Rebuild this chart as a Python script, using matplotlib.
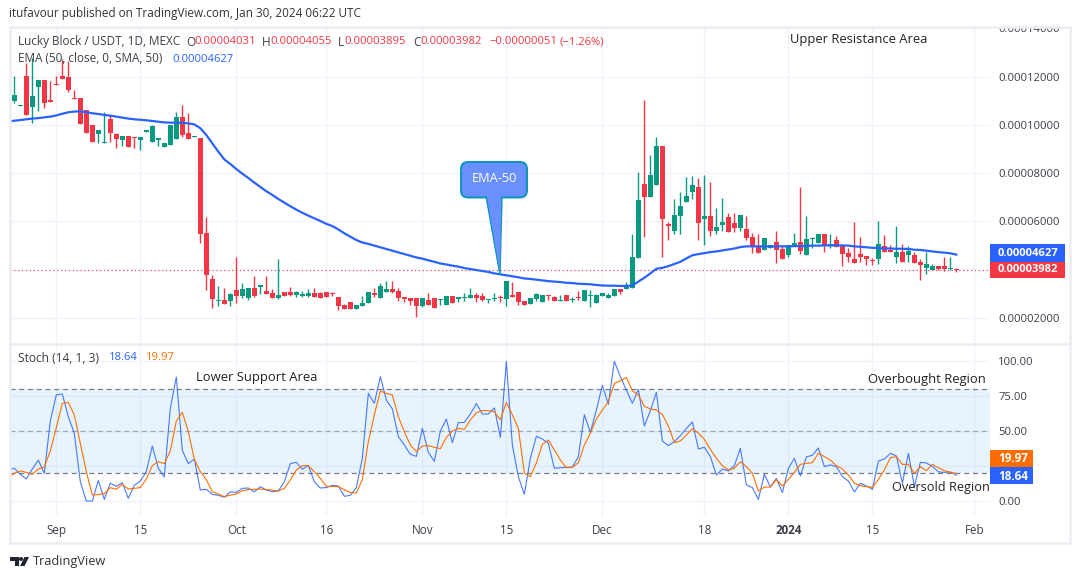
import numpy as np
import pandas as pd
import matplotlib
matplotlib.use('Agg')
import matplotlib.pyplot as plt
import matplotlib.dates as mdates
from matplotlib.patches import FancyBboxPatch, Polygon, Rectangle, Circle

plt.rcParams['font.family'] = 'Open Sans'

# prices are in units of 1e-5 USDT, candles start on 2023-08-25
opens = [10.99,10.79,12.02,10.74,11.57,11.86,10.99,11.69,12.02,11.98,11.10,11.11,10.61,9.99,9.62,9.26,10.24,9.62,9.37,9.54,
         9.50,9.37,9.72,9.29,9.37,9.08,9.17,9.41,10.32,9.66,9.50,9.45,5.52,3.62,2.71,2.75,2.71,3.16,2.91,2.83,
         3.26,3.30,3.12,3.04,2.83,3.08,3.08,2.95,2.93,2.91,3.04,3.04,3.08,3.02,2.87,2.54,2.66,2.37,2.50,2.62,
         3.04,2.83,3.08,3.20,3.12,2.87,2.83,2.83,2.50,2.75,2.83,2.76,2.54,2.91,2.79,2.84,2.83,2.95,2.91,2.76,
         2.79,2.87,2.79,2.95,3.08,2.70,2.58,2.79,2.66,2.95,2.87,2.71,2.95,2.76,2.87,2.71,2.92,2.62,2.91,2.83,
         2.91,3.20,3.22,3.24,4.48,7.55,7.01,7.51,9.12,5.89,5.60,6.22,6.80,7.22,7.42,6.10,6.22,5.60,5.85,6.18,
         5.93,5.73,5.69,5.35,4.98,4.82,4.90,5.15,4.86,4.61,4.98,5.15,4.61,5.28,5.11,5.48,4.98,5.23,5.02,4.69,
         4.44,4.65,4.57,4.40,4.44,4.98,4.82,4.53,4.73,4.61,4.61,4.32,4.07,3.99,4.15,4.15,4.04,4.031]
highs = [12.02,10.82,12.55,12.75,11.86,11.86,11.81,12.02,12.71,12.63,11.44,11.11,10.61,9.99,9.79,10.53,10.41,9.66,9.54,9.54,
         9.50,9.50,9.74,10.00,9.45,9.25,9.99,10.53,10.82,10.49,9.52,9.45,6.18,3.78,3.33,3.26,3.04,4.53,3.45,3.26,
         3.74,3.33,3.74,3.20,4.45,3.08,3.29,3.12,3.12,3.20,3.26,3.08,3.08,3.06,2.87,2.58,2.66,2.54,2.91,3.08,
         3.24,3.45,3.53,3.53,3.24,2.87,2.83,2.83,2.83,3.04,2.83,2.79,2.91,2.91,2.87,3.04,3.24,3.04,3.04,2.79,
         3.04,2.95,3.53,3.49,3.08,2.70,2.83,3.04,2.95,2.95,2.91,2.95,2.95,2.87,3.12,3.16,3.16,2.99,3.04,3.04,
         3.20,3.20,3.49,5.48,8.05,11.03,8.75,9.49,9.12,5.97,6.93,7.22,7.84,7.88,7.80,7.92,7.63,6.55,6.97,6.35,
         6.35,6.26,6.22,5.52,5.48,5.31,5.02,5.60,5.02,5.02,5.52,7.42,6.22,5.35,5.48,5.48,5.48,5.40,5.02,4.90,
         5.98,5.35,4.57,4.48,6.02,5.44,5.02,5.81,5.06,4.98,4.73,4.44,4.73,4.24,4.15,4.53,4.53,4.055]
lows = [10.89,10.79,10.41,10.09,10.59,10.68,10.96,11.66,11.90,11.37,11.08,10.03,9.66,9.29,9.26,9.26,9.29,9.04,9.12,9.08,
        9.04,8.96,9.72,9.29,9.12,9.08,9.17,9.41,9.51,9.41,9.50,5.11,3.16,2.42,2.50,2.58,2.50,2.62,2.83,2.75,
        2.87,3.00,3.00,2.83,2.79,2.91,2.91,2.87,2.87,2.87,2.87,2.83,2.87,2.91,2.33,2.37,2.37,2.37,2.50,2.62,
        2.87,2.83,3.08,3.04,2.70,2.66,2.54,2.04,2.46,2.54,2.42,2.54,2.54,2.62,2.66,2.70,2.83,2.66,2.70,2.62,
        2.70,2.66,2.50,2.87,2.54,2.54,2.58,2.70,2.66,2.75,2.71,2.71,2.71,2.66,2.75,2.71,2.46,2.62,2.91,2.83,
        2.91,2.99,3.22,3.24,4.48,5.35,7.01,7.51,4.53,5.23,5.48,5.48,6.80,6.93,5.23,5.02,5.40,5.48,5.60,5.56,
        5.56,5.60,5.23,4.69,4.69,4.82,4.90,4.28,4.44,4.53,4.98,4.65,4.61,4.90,5.11,4.73,4.90,4.94,4.15,4.32,
        4.28,4.32,4.20,4.20,4.24,4.73,4.73,4.28,4.32,4.32,4.28,3.57,3.82,3.99,3.99,3.95,4.00,3.895]
closes = [11.23,10.82,10.41,11.19,11.86,10.90,10.96,11.66,11.90,11.44,11.08,10.03,9.66,9.29,9.79,9.28,9.66,9.41,9.54,9.08,
          9.44,9.50,9.74,9.95,9.45,9.25,9.99,10.32,9.58,9.41,9.52,5.48,3.78,2.79,2.75,2.58,3.00,2.91,3.20,3.26,
          2.91,3.33,3.00,2.83,2.95,2.91,2.95,3.08,2.95,3.04,2.87,2.83,2.87,2.98,2.51,2.37,2.37,2.54,2.62,3.08,
          2.95,3.33,3.20,3.08,2.83,2.79,2.71,2.50,2.83,2.54,2.42,2.79,2.91,2.62,2.87,2.87,2.95,2.83,2.75,2.79,
          2.82,2.83,3.53,2.87,2.66,2.54,2.83,2.99,2.95,2.92,2.71,2.73,2.71,2.79,2.84,3.16,2.95,2.95,3.04,2.95,
          3.20,3.08,3.24,4.53,6.89,7.01,7.92,9.12,6.10,5.81,6.26,6.64,7.05,7.51,5.93,6.22,5.60,5.77,5.98,5.56,
          5.73,6.26,5.31,4.94,4.69,5.31,5.02,4.82,4.44,5.02,5.11,4.77,5.27,5.31,5.48,4.98,5.06,4.94,4.65,4.53,
          4.28,4.53,4.44,4.37,5.06,4.73,4.73,4.73,4.32,4.77,4.28,4.20,4.24,4.15,4.03,4.03,4.07,3.982]

# ema and stochastic start one day earlier, on 2023-08-24
ema50 = [10.15,10.17,10.20,10.23,10.26,10.28,10.31,10.34,10.39,10.46,10.52,10.55,10.56,10.52,10.48,10.45,10.41,10.38,10.34,10.30,
         10.26,10.23,10.21,10.19,10.16,10.13,10.10,10.09,10.09,10.09,10.06,10.02,9.86,9.58,9.23,8.89,8.57,8.38,8.17,7.98,
         7.80,7.61,7.43,7.25,7.10,6.93,6.78,6.63,6.49,6.36,6.24,6.13,6.02,5.90,5.81,5.67,5.51,5.37,5.23,5.13,
         5.07,5.00,4.93,4.86,4.79,4.72,4.65,4.58,4.51,4.46,4.39,4.33,4.26,4.22,4.17,4.13,4.07,4.03,3.99,3.95,
         3.91,3.85,3.81,3.77,3.73,3.69,3.64,3.62,3.59,3.56,3.53,3.51,3.49,3.46,3.45,3.42,3.41,3.40,3.37,3.35,
         3.34,3.34,3.33,3.33,3.35,3.51,3.67,3.85,4.04,4.08,4.15,4.24,4.33,4.47,4.60,4.65,4.69,4.73,4.76,4.80,
         4.84,4.88,4.94,4.97,4.97,4.97,4.97,4.97,4.97,4.97,4.97,4.98,4.98,4.98,5.00,5.00,5.01,5.01,5.01,5.01,
         5.00,4.97,4.95,4.93,4.91,4.90,4.88,4.88,4.87,4.87,4.86,4.83,4.82,4.79,4.76,4.73,4.71,4.68,4.627]
stoch_k = [22.4,23.6,19.3,16.0,23.1,29.5,20.0,57.4,76.0,76.7,60.5,48.6,14.0,0.2,0.2,15.0,1.4,12.9,10.7,13.3,
           2.1,11.4,14.5,21.2,39.5,23.6,17.4,66.4,88.8,36.4,26.9,30.2,8.1,8.6,5.0,4.3,2.9,6.7,6.4,9.3,
           9.5,6.7,10.5,8.1,6.9,7.4,14.0,26.9,27.9,22.9,25.7,14.0,9.5,9.8,11.4,11.0,3.6,4.3,9.8,30.7,
           77.1,70.0,89.0,72.4,66.0,46.2,40.2,33.6,32.1,52.1,35.0,28.6,50.2,58.8,41.9,56.2,56.4,62.4,69.8,62.4,
           62.4,66.7,45.7,100,40.2,17.6,5.0,30.7,46.4,44.5,41.4,23.6,24.0,24.3,24.5,31.9,61.9,49.3,65.2,82.9,
           69.3,100,89.0,79.5,70.0,80.0,53.8,64.8,77.9,43.1,39.8,42.6,46.9,52.1,56.7,37.4,38.6,31.9,18.8,23.1,
           21.7,25.5,37.9,11.7,9.8,1.4,19.3,10.2,16.4,6.2,23.6,30.7,18.1,31.7,32.9,38.1,24.8,26.0,24.8,17.6,
           14.5,6.7,12.9,11.0,8.6,28.8,30.2,34.3,32.4,12.9,34.3,10.5,27.9,27.4,25.0,21.0,20.7,21.0,18.64]
stoch_d = [16.9,20.0,21.7,20.7,19.3,23.1,24.5,36.0,52.6,70.0,70.7,61.7,41.4,21.2,4.5,4.8,5.5,9.8,8.6,12.1,
           8.8,9.3,9.8,16.0,25.5,28.3,26.9,36.0,57.4,63.6,49.8,30.0,21.2,15.5,6.9,5.2,3.3,4.5,5.2,7.6,
           8.3,8.6,8.8,8.3,8.1,7.4,9.3,15.2,22.4,25.5,25.5,21.2,16.4,10.7,10.7,10.5,8.3,6.2,6.0,15.5,
           42.6,61.7,78.8,77.1,76.0,60.5,49.8,40.2,35.5,39.5,39.8,38.6,37.6,45.7,50.2,52.1,51.4,58.1,63.3,64.8,
           64.8,64.0,58.3,70.7,61.7,52.1,20.2,17.6,27.4,40.7,43.8,36.7,29.5,24.0,24.3,27.6,40.2,48.6,58.8,65.2,
           71.2,84.3,86.0,88.6,79.0,76.0,67.9,66.0,65.2,62.1,53.8,41.9,43.1,47.4,51.7,48.8,44.3,37.1,30.7,25.5,
           22.4,23.6,28.3,24.8,20.0,7.4,10.2,10.2,15.5,11.0,15.7,20.7,26.4,27.1,27.6,34.3,31.9,29.5,25.5,23.1,
           18.8,12.9,11.2,10.5,10.0,15.7,22.4,31.2,31.9,26.4,26.4,20.0,24.8,21.9,26.4,24.0,21.9,20.7,19.97]

price_ticks = [2, 4, 6, 8, 10, 12, 14]
price_labels = ['0.00002000', '', '0.00006000', '0.00008000', '0.00010000', '0.00012000', '0.00014000']
stoch_ticks = [0, 25, 50, 75, 100]
stoch_labels = ['0.00', '', '50.00', '75.00', '100.00']
date_ticks = ['2023-09-01', '2023-09-15', '2023-10-01', '2023-10-16', '2023-11-01', '2023-11-15',
              '2023-12-01', '2023-12-18', '2024-01-01', '2024-01-15', '2024-02-01']
date_labels = ['Sep', '15', 'Oct', '16', 'Nov', '15', 'Dec', '18', '2024', '15', 'Feb']

UP = '#089981'
DOWN = '#F23645'
BLUE = '#2962FF'
ORANGE = '#FF6D00'
GRID = '#F0F3FA'
FRAME = '#EBEDF3'
TEXT = '#3b3e48'
W, H = 1080, 579

def box(left, top, right, bottom):
    return [left / W, 1 - bottom / H, (right - left) / W, (bottom - top) / H]

def put(x, y, s, **kw):
    kw.setdefault('color', TEXT)
    kw.setdefault('fontsize', 8.1)
    kw.setdefault('va', 'center')
    fig.text(x / W, 1 - y / H, s, **kw)

fig = plt.figure(figsize=(W / 100, H / 100), dpi=100, facecolor='white')

candle_days = pd.date_range('2023-08-25', periods=len(closes), freq='D')
line_days = pd.date_range('2023-08-24', periods=len(ema50), freq='D')
t0 = mdates.date2num(candle_days[0])
xlim = (t0 - 0.717, t0 + 162.6)
op, hi, lo, cl = map(np.array, (opens, highs, lows, closes))
colors = [UP if c >= o else DOWN for o, c in zip(op, cl)]

# price pane
ax = fig.add_axes(box(10, 28, 990, 343))
ax.set_xlim(xlim)
ax.set_ylim(0.968, 14.01)
ax.vlines(candle_days, lo, hi, colors=colors, lw=1, zorder=3)
ax.bar(candle_days, np.maximum(np.abs(cl - op), 0.05), bottom=np.minimum(op, cl), width=0.83,
       color=colors, linewidth=0, zorder=3)
ax.plot(line_days, ema50, color=BLUE, lw=1.6, zorder=4)
ax.axhline(closes[-1], color=DOWN, lw=0.8, ls=(0, (1, 2.5)), zorder=2)
ax.set_yticks(price_ticks)
ax.set_yticklabels(price_labels)

# stochastic pane
ax2 = fig.add_axes(box(10, 345, 990, 516))
ax2.set_xlim(xlim)
ax2.set_ylim(-10.48, 111.67)
ax2.axhspan(20, 80, color='#2196F3', alpha=0.1, lw=0, zorder=1)
ax2.axhline(80, color='#787B86', lw=0.9, ls=(0, (4, 3)), zorder=2)
ax2.axhline(50, color='#787B86', lw=0.9, ls=(0, (4, 3)), alpha=0.6, zorder=2)
ax2.axhline(20, color='#787B86', lw=0.9, ls=(0, (4, 3)), zorder=2)
ax2.plot(line_days, stoch_k, color=BLUE, lw=0.8, alpha=0.85, zorder=3)
ax2.plot(line_days, stoch_d, color=ORANGE, lw=0.8, zorder=4)
ax2.set_yticks(stoch_ticks)
ax2.set_yticklabels(stoch_labels)

for a in (ax, ax2):
    a.set_xticks(mdates.date2num(pd.to_datetime(date_ticks)))
    a.grid(True, color=GRID, lw=1, zorder=0)
    a.set_axisbelow(True)
    a.yaxis.tick_right()
    a.tick_params(axis='y', length=0, pad=6, labelsize=8.1, labelcolor=TEXT)
    a.tick_params(axis='x', length=0)
    for s in a.spines.values():
        s.set_visible(False)
ax.set_xticklabels([])
ax2.set_xticklabels(date_labels, fontsize=8.4, color=TEXT)
ax2.tick_params(axis='x', pad=6)
for lab, txt in zip(ax2.get_xticklabels(), date_labels):
    if txt == '2024':
        lab.set_fontweight('bold')

# overlay in pixels for frame, callout and value tags
over = fig.add_axes([0, 0, 1, 1], zorder=10)
over.set_xlim(0, W)
over.set_ylim(H, 0)
over.axis('off')
# the top price label is cut by the frame
over.add_patch(Rectangle((991, 15), 79, 12, fc='white', ec='none', zorder=1))
over.add_patch(Rectangle((10, 27), 1060, 516, fill=False, ec=FRAME, lw=1.8, zorder=2))
over.plot([10, 1070], [344, 344], color=FRAME, lw=1.8, zorder=2)

over.add_patch(Polygon([(486, 196), (500, 275), (502, 196)], fc='#6A8FFF', ec='#0A96B8', lw=1, zorder=11))
over.add_patch(FancyBboxPatch((464, 165), 60, 29.5, boxstyle='round,pad=3,rounding_size=7',
                              fc='#6A8FFF', ec='#0A96B8', lw=1.4, zorder=12))
over.add_patch(Polygon([(487, 195), (500, 272), (501, 195)], fc='#6A8FFF', ec='none', zorder=13))
put(494, 179, 'EMA-50', color='white', fontsize=9.2, ha='center', zorder=20)

for top, bot, right, c in [(244, 262, 1065, BLUE), (262, 278, 1065, DOWN),
                           (450, 467, 1033, ORANGE), (467, 484, 1033, BLUE)]:
    over.add_patch(Rectangle((990, top), right - 990, bot - top, fc=c, ec='none', zorder=12))

# tradingview mark
over.add_patch(Polygon([(10, 557), (18.5, 557), (18.5, 566), (14.5, 566), (14.5, 561), (10, 561)],
                       fc='#1f2430', ec='none'))
over.add_patch(Circle((21, 559), 2, fc='#1f2430', ec='none'))
over.add_patch(Polygon([(24.5, 557), (29, 557), (24.5, 566), (20, 566)], fc='#1f2430', ec='none'))

# texts
put(9, 14, 'itufavour published on TradingView.com, Jan 30, 2024 06:22 UTC', color='#333333', fontsize=8.5)
put(18, 42, 'Lucky Block / USDT, 1D, MEXC', fontsize=8.5)
for x, s in [(186, 'O'), (262, 'H'), (338, 'L'), (413, 'C')]:
    put(x, 42, s, fontsize=8.5)
for x, s in [(194, '0.00004031'), (270, '0.00004055'), (344, '0.00003895'), (420, '0.00003982'),
             (489, '\u22120.00000051'), (560, '(\u22121.26%)')]:
    put(x, 42, s, color=DOWN)
put(18, 59, 'EMA (50, close, 0, SMA, 50)', fontsize=8.5)
put(172, 59, '0.00004627', color=BLUE)
put(18, 358, 'Stoch (14, 1, 3)', fontsize=8.6)
put(109, 358, '18.64', color=BLUE)
put(146, 358, '19.97', color=ORANGE)
put(790, 40, 'Upper Resistance Area', fontsize=9.4, color='#222222')
put(196, 377, 'Lower Support Area', fontsize=9.4, color='#222222')
put(868, 379, 'Overbought Region', fontsize=9.4, color='#222222')
put(892, 488, 'Oversold Region', fontsize=9.2, color='#222222')
put(998, 253, '0.00004627', color='white', fontweight='bold', zorder=20)
put(998, 270, '0.00003982', color='white', fontweight='bold', zorder=20)
put(998, 458, '19.97', color='white', fontweight='bold', fontsize=8.4, zorder=20)
put(998, 476, '18.64', color='white', fontweight='bold', fontsize=8.4, zorder=20)
put(33, 561, 'TradingView', fontsize=9.2, color='#333333')

fig.savefig('out.png', dpi=100)
